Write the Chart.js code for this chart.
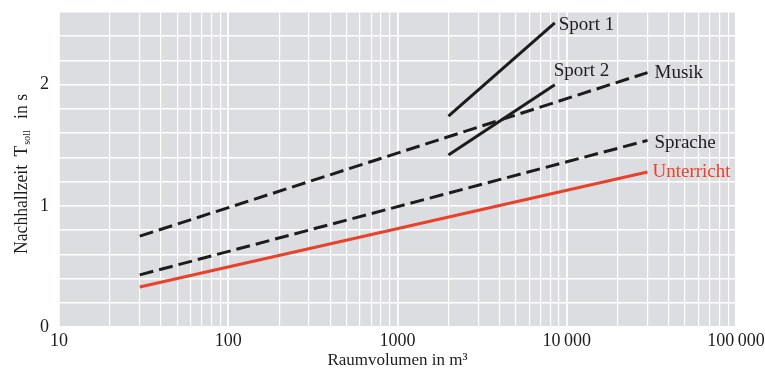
<!DOCTYPE html>
<html><head><meta charset="utf-8">
<script src="https://cdn.jsdelivr.net/npm/chart.js@4"></script>
<style>html,body{margin:0;padding:0;background:#fff}canvas{display:block}</style>
</head><body>
<canvas id="c" width="765" height="371"></canvas>
<script>
// ---- data ----
const roomVolumes = [30, 30000];
const musik = [0.75, 2.10];
const sprache = [0.43, 1.54];
const unterricht = [0.33, 1.28];
const sportVolumes = [2000, 8500];
const sport1 = [1.74, 2.51];
const sport2 = [1.42, 2.00];
const seriesNames = ['Musik', 'Sprache', 'Unterricht', 'Sport 1', 'Sport 2'];
const xTickValues = [10,20,30,40,50,60,70,80,90,100,200,300,400,500,600,700,800,900,1000,2000,3000,4000,5000,6000,7000,8000,9000,10000,20000,30000,40000,50000,60000,70000,80000,90000,100000];
const xLabelValues = [10, 100, 1000, 10000, 100000];
const xLabelTexts = ['10', '100', '1000', '10\u2009000', '100\u2009000'];
const yLabelValues = [0, 1, 2];
const xTitle = 'Raumvolumen in m\u00b3';
const yTitleParts = ['Nachhallzeit', 'T', 'soll', 'in s'];

// ---- styles ----
const BLACK = '#1c1c1c';
const RED = '#e8412c';
const SERIF = "'Liberation Serif', 'DejaVu Serif', serif";
const labelStyle = [
  {dx: 7, dy: 0, color: BLACK},
  {dx: 7, dy: 3, color: BLACK},
  {dx: 5, dy: 0, color: RED},
  {dx: 4, dy: 2, color: BLACK},
  {dx: -1, dy: -14, color: BLACK}
];

function pts(xs, ys) { return xs.map((x, i) => ({x: x, y: ys[i]})); }

const bgPlugin = {
  id: 'bg',
  beforeDraw(chart) {
    const a = chart.chartArea, ctx = chart.ctx;
    ctx.save();
    ctx.fillStyle = '#dcdde0';
    ctx.fillRect(a.left, a.top, a.right - a.left, a.bottom - a.top);
    ctx.restore();
  }
};

const labelPlugin = {
  id: 'lineLabels',
  afterDatasetsDraw(chart) {
    const ctx = chart.ctx;
    ctx.save();
    ctx.font = '19px ' + SERIF;
    ctx.textAlign = 'left';
    ctx.textBaseline = 'middle';
    chart.data.datasets.forEach((ds, i) => {
      const meta = chart.getDatasetMeta(i);
      const p = meta.data[meta.data.length - 1];
      const st = labelStyle[i];
      ctx.fillStyle = st.color;
      ctx.fillText(seriesNames[i], p.x + st.dx, p.y + st.dy);
    });
    ctx.restore();
  }
};

const yTitlePlugin = {
  id: 'yTitle',
  afterDraw(chart) {
    const ctx = chart.ctx;
    ctx.save();
    const main = '19px ' + SERIF, sub = '11px ' + SERIF;
    ctx.font = main;
    const w0 = ctx.measureText(yTitleParts[0]).width;
    const w1 = ctx.measureText(yTitleParts[1]).width;
    const w3 = ctx.measureText(yTitleParts[3]).width;
    ctx.font = sub;
    const w2 = ctx.measureText(yTitleParts[2]).width;
    const g1 = 9, g2 = 1, g3 = 12;
    const total = w0 + g1 + w1 + g2 + w2 + g3 + w3;
    const target = 160;
    const s = target / total;
    ctx.translate(27, 174);
    ctx.rotate(-Math.PI / 2);
    ctx.scale(s, 1);
    ctx.fillStyle = BLACK;
    ctx.textBaseline = 'alphabetic';
    ctx.textAlign = 'left';
    let x = -total / 2;
    ctx.font = main;
    ctx.fillText(yTitleParts[0], x, 0); x += w0 + g1;
    ctx.fillText(yTitleParts[1], x, 0); x += w1 + g2;
    ctx.font = sub;
    ctx.fillText(yTitleParts[2], x, 3); x += w2 + g3;
    ctx.font = main;
    ctx.fillText(yTitleParts[3], x, 0);
    ctx.restore();
  }
};

new Chart(document.getElementById('c'), {
  type: 'line',
  data: {
    datasets: [
      {data: pts(roomVolumes, musik), borderColor: BLACK, borderWidth: 3, borderDash: [14, 6]},
      {data: pts(roomVolumes, sprache), borderColor: BLACK, borderWidth: 3, borderDash: [14, 6]},
      {data: pts(roomVolumes, unterricht), borderColor: RED, borderWidth: 3},
      {data: pts(sportVolumes, sport1), borderColor: BLACK, borderWidth: 3},
      {data: pts(sportVolumes, sport2), borderColor: BLACK, borderWidth: 3}
    ]
  },
  options: {
    responsive: false,
    animation: false,
    layout: {padding: {top: 12, right: 29, left: 0, bottom: 0}},
    elements: {point: {radius: 0}, line: {tension: 0, borderCapStyle: 'butt', fill: false}},
    plugins: {legend: {display: false}, tooltip: {enabled: false}},
    scales: {
      x: {
        type: 'logarithmic', min: 10, max: 100000,
        border: {display: false},
        grid: {color: '#ffffff', drawTicks: false,
               lineWidth: c => (xLabelValues.includes(c.tick && c.tick.value) ? 1.8 : 1.2)},
        afterBuildTicks: s => { s.ticks = xTickValues.map(v => ({value: v})); },
        afterFit: s => { s.height = 44; s.paddingLeft = 0; s.paddingRight = 0; },
        ticks: {
          autoSkip: false, maxRotation: 0, minRotation: 0, padding: 3,
          color: BLACK, font: {family: SERIF, size: 18},
          callback: v => { const k = xLabelValues.indexOf(v); return k >= 0 ? xLabelTexts[k] : ''; }
        },
        title: {display: true, text: xTitle, color: BLACK, font: {family: SERIF, size: 17}, padding: {top: 0, bottom: 0}}
      },
      y: {
        type: 'linear', min: 0, max: 2.6,
        border: {display: false},
        grid: {color: '#ffffff', drawTicks: false, lineWidth: 1.5},
        afterFit: s => { s.width = 59; s.paddingTop = 0; s.paddingBottom = 0; },
        ticks: {
          autoSkip: false, stepSize: 0.2, padding: 10, color: BLACK, font: {family: SERIF, size: 18},
          callback: v => { const r = Math.round(v); return (Math.abs(v - r) < 1e-6 && yLabelValues.includes(r)) ? String(r) : ''; }
        }
      }
    }
  },
  plugins: [bgPlugin, labelPlugin, yTitlePlugin]
});
</script>
</body></html>
